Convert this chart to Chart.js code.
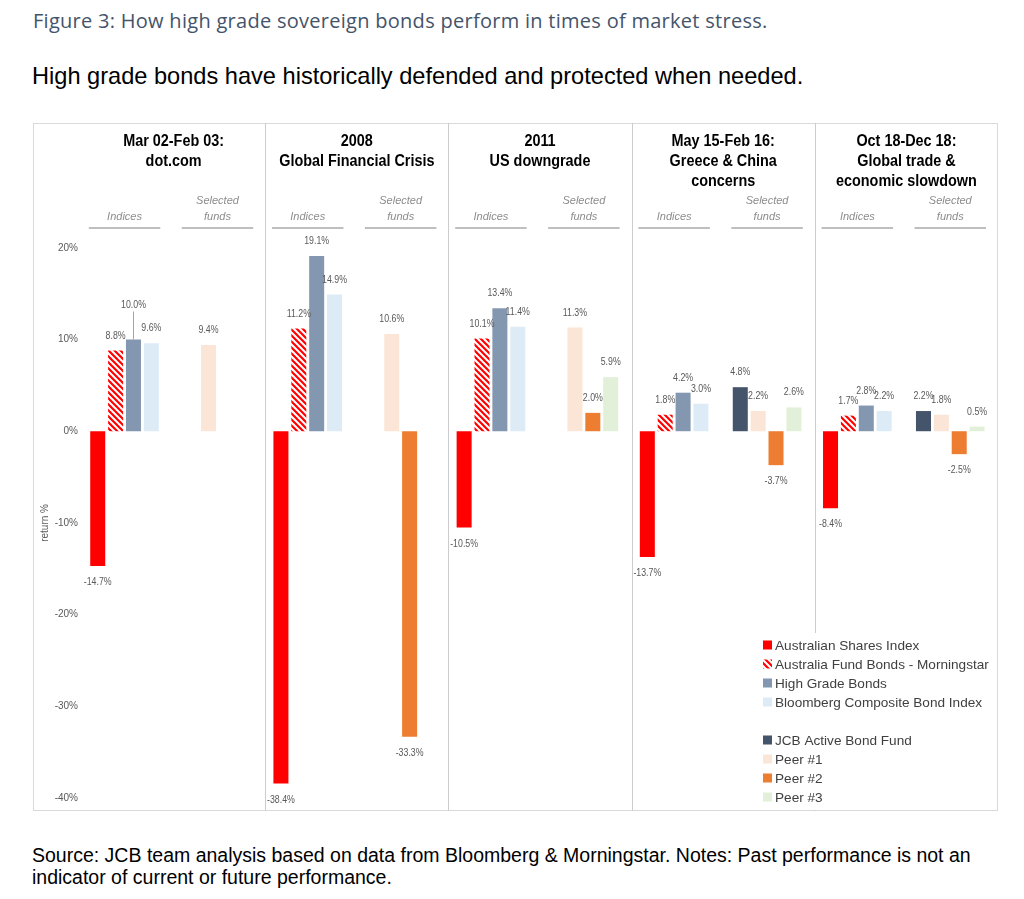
<!DOCTYPE html>
<html>
<head>
<meta charset="utf-8">
<script src="https://cdn.jsdelivr.net/npm/chart.js@4.4.0/dist/chart.umd.min.js"></script>
<style>
  body { margin: 0; background: #fff; width: 1024px; height: 899px; position: relative; overflow: hidden;
         font-family: 'Liberation Sans', Arial, sans-serif; }
  #fig { position: absolute; left: 33px; top: 7px; font-family: 'Open Sans', sans-serif; font-size: 20px; letter-spacing: 0.28px; color: #44546a; }
  #sub { position: absolute; left: 32px; top: 63px; font-size: 23.6px; color: #000; }
  #src { position: absolute; left: 32px; top: 844px; font-size: 19.5px; line-height: 22px; color: #000; width: 960px; }
  #wrap { position: absolute; left: 0; top: 110px; width: 1024px; height: 712px; }
</style>
</head>
<body>
<div id="fig">Figure 3: How high grade sovereign bonds perform in times of market stress.</div>
<div id="sub">High grade bonds have historically defended and protected when needed.</div>
<div id="wrap"><canvas id="chart"></canvas></div>
<div id="src">Source: JCB team analysis based on data from Bloomberg &amp; Morningstar. Notes: Past performance is not an indicator of current or future performance.</div>
<script>
const panels = [
  ['Mar 02-Feb 03:', 'dot.com'],
  ['2008', 'Global Financial Crisis'],
  ['2011', 'US downgrade'],
  ['May 15-Feb 16:', 'Greece & China', 'concerns'],
  ['Oct 18-Dec 18:', 'Global trade &', 'economic slowdown']
];
const indexNames = ['Australian Shares Index', 'Australia Fund Bonds - Morningstar', 'High Grade Bonds', 'Bloomberg Composite Bond Index'];
const fundNames = ['JCB Active Bond Fund', 'Peer #1', 'Peer #2', 'Peer #3'];

const ausShares    = [-14.7, -38.4, -10.5, -13.7, -8.4];
const ausFundBonds = [8.8, 11.2, 10.1, 1.8, 1.7];
const highGrade    = [10.0, 19.1, 13.4, 4.2, 2.8];
const bloomberg    = [9.6, 14.9, 11.4, 3.0, 2.2];
const jcbFund      = [null, null, null, 4.8, 2.2];
const peer1        = [9.4, 10.6, 11.3, 2.2, 1.8];
const peer2        = [null, -33.3, 2.0, -3.7, -2.5];
const peer3        = [null, null, 5.9, 2.6, 0.5];

const yTicks = [-40, -30, -20, -10, 0, 10, 20];

// slot layout inside each panel (x units = one bar slot)
const PANEL_W = 10.25, IDX_START = 0.38, FUND_START = 5.58;
const sans = "'Liberation Sans', Arial, sans-serif";

function makeHatch(color) {
  const c = document.createElement('canvas');
  c.width = c.height = 6;
  const g = c.getContext('2d');
  g.fillStyle = '#fff';
  g.fillRect(0, 0, 6, 6);
  g.strokeStyle = color;
  g.lineWidth = 2.2;
  g.beginPath();
  g.moveTo(-1, -1); g.lineTo(7, 7);
  g.moveTo(-1, 5); g.lineTo(1, 7);
  g.moveTo(5, -1); g.lineTo(7, 1);
  g.stroke();
  return document.getElementById('chart').getContext('2d').createPattern(c, 'repeat');
}

const idxColors = ['#ff0000', makeHatch('#ff0000'), '#8497b0', '#ddebf7'];
const fundColors = ['#44546a', '#fbe5d6', '#ed7d31', '#e2f0d9'];

function slotX(p, group, s) {
  return p * PANEL_W + (group ? FUND_START : IDX_START) + s + 0.5;
}

const datasets = [];
[ausShares, ausFundBonds, highGrade, bloomberg].forEach((vals, s) => {
  datasets.push({
    label: indexNames[s],
    data: vals.map((v, p) => ({ x: slotX(p, 0, s), y: v })).filter(d => d.y !== null),
    backgroundColor: idxColors[s]
  });
});
[jcbFund, peer1, peer2, peer3].forEach((vals, s) => {
  datasets.push({
    label: fundNames[s],
    data: vals.map((v, p) => ({ x: slotX(p, 1, s), y: v })).filter(d => d.y !== null),
    backgroundColor: fundColors[s]
  });
});

// narrow-looking text, like the condensed font of the original
function narrowText(ctx, text, x, y, sx) {
  ctx.save();
  ctx.translate(x, y);
  ctx.scale(sx, 1);
  ctx.fillText(text, 0, 0);
  ctx.restore();
}

const decor = {
  id: 'decor',
  beforeDatasetsDraw(chart) {
    const { ctx, chartArea: a, scales: { x, y } } = chart;
    ctx.save();
    ctx.strokeStyle = '#d9d9d9';
    ctx.lineWidth = 1;
    ctx.strokeRect(y.left + 0.5, a.top + 0.5, a.right - y.left - 1, a.bottom - a.top - 1);
    ctx.strokeStyle = '#cccccc';
    for (let p = 1; p < panels.length; p++) {
      const px = Math.round(x.getPixelForValue(p * PANEL_W)) + 0.5;
      ctx.beginPath();
      ctx.moveTo(px, a.top);
      ctx.lineTo(px, a.bottom);
      ctx.stroke();
    }
    ctx.textAlign = 'center';
    ctx.textBaseline = 'middle';
    panels.forEach((lines, p) => {
      const cx = x.getPixelForValue(p * PANEL_W + PANEL_W / 2);
      ctx.fillStyle = '#000';
      ctx.font = 'bold 16px ' + sans;
      lines.forEach((t, k) => narrowText(ctx, t, cx, a.top + 19 + k * 20, 0.9));
      [[IDX_START, ['Indices']], [FUND_START, ['Selected', 'funds']]].forEach(([start, words]) => {
        const l = x.getPixelForValue(p * PANEL_W + start);
        const r = x.getPixelForValue(p * PANEL_W + start + 4);
        ctx.fillStyle = '#8c8c8c';
        ctx.font = 'italic 11px ' + sans;
        words.forEach((w, k) => ctx.fillText(w, (l + r) / 2, a.top + 94 - (words.length - 1 - k) * 16));
        ctx.strokeStyle = '#bfbfbf';
        ctx.lineWidth = 2;
        ctx.beginPath();
        ctx.moveTo(l, a.top + 105);
        ctx.lineTo(r, a.top + 105);
        ctx.stroke();
      });
    });
    ctx.restore();
  },
  afterDatasetsDraw(chart) {
    const { ctx, chartArea: a, scales: { y } } = chart;
    ctx.save();
    ctx.textAlign = 'center';
    ctx.textBaseline = 'middle';
    ctx.font = '11px ' + sans;
    ctx.fillStyle = '#595959';
    chart.data.datasets.forEach((ds, i) => {
      chart.getDatasetMeta(i).data.forEach((bar, j) => {
        const v = ds.data[j].y;
        let ly = v >= 0 ? bar.y - 15 : bar.y + 16;
        // crowded label between two neighbours: lift it with a leader line
        if (i === 2 && j === 0) {
          ly -= 20;
          ctx.strokeStyle = '#a6a6a6';
          ctx.lineWidth = 1;
          ctx.beginPath();
          ctx.moveTo(Math.round(bar.x) + 0.5, ly + 7);
          ctx.lineTo(Math.round(bar.x) + 0.5, bar.y);
          ctx.stroke();
        }
        narrowText(ctx, v.toFixed(1) + '%', bar.x, ly, 0.8);
      });
    });
    // axis title
    ctx.save();
    ctx.translate(y.left + 12, y.getPixelForValue(-10));
    ctx.rotate(-Math.PI / 2);
    ctx.font = '10px ' + sans;
    ctx.fillText('return %', 0, 0);
    ctx.restore();
    // legend
    ctx.fillStyle = '#fff';
    ctx.fillRect(a.right - 242, a.bottom - 178, 241, 177);
    ctx.textAlign = 'left';
    ctx.font = '13.6px ' + sans;
    chart.data.datasets.forEach((ds, i) => {
      const row = i < 4 ? i : i + 1;
      const cy = a.bottom - 166 + row * 19;
      ctx.fillStyle = ds.backgroundColor;
      ctx.fillRect(a.right - 235, cy - 4.5, 9, 9);
      ctx.fillStyle = '#404040';
      ctx.fillText(ds.label, a.right - 223, cy + 1);
    });
    ctx.restore();
  }
};

new Chart(document.getElementById('chart'), {
  type: 'bar',
  data: { datasets: datasets },
  plugins: [decor],
  options: {
    responsive: true,
    maintainAspectRatio: false,
    animation: false,
    layout: { padding: { left: 33, right: 26, top: 13, bottom: 11 } },
    datasets: { bar: { grouped: false, categoryPercentage: 1, barPercentage: 0.84 } },
    plugins: { legend: { display: false }, tooltip: { enabled: false } },
    scales: {
      x: { type: 'linear', min: 0, max: panels.length * PANEL_W, offset: false, display: false },
      y: {
        min: -41.4,
        max: 33.6,
        afterBuildTicks: s => { s.ticks = yTicks.map(v => ({ value: v })); },
        afterFit: s => { s.width = 49; },
        grid: { display: false, drawTicks: false },
        border: { display: false },
        ticks: { callback: v => v + '%', color: '#595959', font: { family: sans, size: 10 }, padding: 4 }
      }
    }
  }
});
</script>
</body>
</html>
